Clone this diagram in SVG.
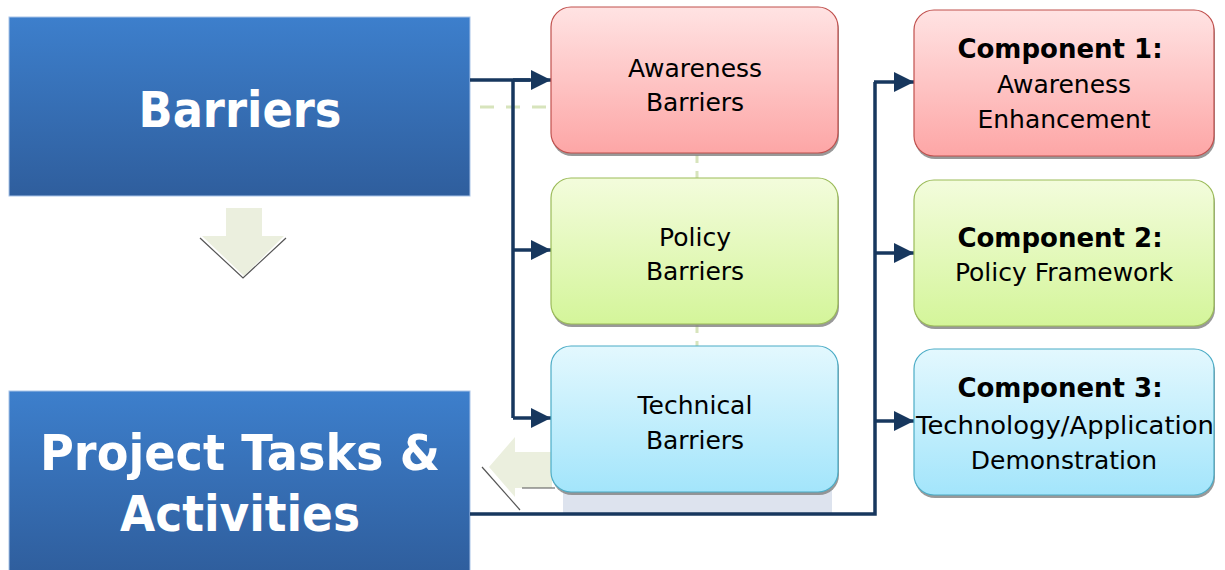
<svg xmlns="http://www.w3.org/2000/svg" width="1225" height="570" viewBox="0 0 1225 570">
<defs>
<linearGradient id="gBlue" x1="0" y1="0" x2="0" y2="1"><stop offset="0" stop-color="#3d7fcc"/><stop offset="1" stop-color="#2f5e9d"/></linearGradient>
<linearGradient id="gRed" x1="0" y1="0" x2="0" y2="1"><stop offset="0" stop-color="#ffe3e3"/><stop offset="1" stop-color="#fda6a6"/></linearGradient>
<linearGradient id="gGreen" x1="0" y1="0" x2="0" y2="1"><stop offset="0" stop-color="#f3fcdc"/><stop offset="1" stop-color="#d4f59a"/></linearGradient>
<linearGradient id="gCyan" x1="0" y1="0" x2="0" y2="1"><stop offset="0" stop-color="#e3f8fe"/><stop offset="1" stop-color="#a3e5fb"/></linearGradient>
<marker id="arr" viewBox="0 0 10 10" refX="10" refY="5" markerWidth="6.5" markerHeight="6.5" markerUnits="userSpaceOnUse" orient="auto"><path d="M0,0 L10,5 L0,10 z" fill="#17375e"/></marker>
<marker id="ah" viewBox="0 0 20 20" refX="20" refY="10" markerWidth="20" markerHeight="20" markerUnits="userSpaceOnUse" orient="auto"><path d="M0,0 L20,10 L0,20 z" fill="#17375e"/></marker>
</defs>
<style>
.big{font-family:"DejaVu Sans","Verdana",sans-serif;font-weight:bold;font-size:50px;fill:#ffffff;text-anchor:middle}
.lbl{font-family:"DejaVu Sans","Verdana",sans-serif;font-size:25px;fill:#000000;text-anchor:middle}
.bold{font-weight:bold;font-size:26px}
.conn{fill:none;stroke:#17375e;stroke-width:3.5}
.shadow{fill:#7f7f7f;opacity:0.8}
.pale{fill:#ebefde}
</style>

<!-- decorative background shapes -->
<g id="decor">
<line x1="480" y1="107" x2="550" y2="107" stroke="#d7e4bc" stroke-width="3" stroke-dasharray="14,12"/>
<line x1="697" y1="155" x2="697" y2="180" stroke="#d7e4bc" stroke-width="3" stroke-dasharray="8,8"/>
<line x1="697" y1="325" x2="697" y2="346" stroke="#d7e4bc" stroke-width="3" stroke-dasharray="8,8"/>
<rect x="563" y="490" width="269" height="23" fill="#dde3ee"/>
<path class="pale" d="M226,208 L262,208 L262,236 L284,236 L244,276 L202,236 L226,236 z"/>
<path d="M200,238 L243,278 L286,238" fill="none" stroke="#555" stroke-width="1.2"/>
<path class="pale" d="M489,467 L515,437 L515,452 L552,452 L552,488 L515,488 L515,497 z"/>
<path d="M482,467 L520,510" fill="none" stroke="#555" stroke-width="1.2"/>
<line x1="522" y1="488" x2="555" y2="488" stroke="#555" stroke-width="1.2"/>
</g>

<g id="barriers">
<rect x="9" y="17" width="461" height="179" fill="url(#gBlue)" stroke="#a8c3e8" stroke-width="1"/>
<text class="big" x="240" y="127" textLength="203" lengthAdjust="spacingAndGlyphs">Barriers</text>
</g>

<g id="project-tasks">
<rect x="9" y="391" width="461" height="182" fill="url(#gBlue)" stroke="#a8c3e8" stroke-width="1"/>
<text class="big" x="240" y="470" textLength="400" lengthAdjust="spacingAndGlyphs">Project Tasks &amp;</text>
<text class="big" x="240" y="531" textLength="240" lengthAdjust="spacingAndGlyphs">Activities</text>
</g>

<g id="connectors">
<path class="conn" d="M470,80 L530,80"/>
<path class="conn" d="M513,80 L513,418"/>
<path class="conn" d="M513,80 L551,80" marker-end="url(#ah)"/>
<path class="conn" d="M513,250 L551,250" marker-end="url(#ah)"/>
<path class="conn" d="M513,418 L551,418" marker-end="url(#ah)"/>
<path class="conn" d="M470,514 L875,514 L875,82"/>
<path class="conn" d="M874,82 L914,82" marker-end="url(#ah)"/>
<path class="conn" d="M874,253 L914,253" marker-end="url(#ah)"/>
<path class="conn" d="M874,421 L914,421" marker-end="url(#ah)"/>
</g>

<g id="awareness-barriers">
<rect class="shadow" x="552" y="10" width="287" height="146" rx="20"/>
<rect x="551" y="7" width="287" height="146" rx="20" fill="url(#gRed)" stroke="#c0504d" stroke-width="1.2"/>
<text class="lbl" x="695" y="77">Awareness</text>
<text class="lbl" x="695" y="111">Barriers</text>
</g>

<g id="policy-barriers">
<rect class="shadow" x="552" y="181" width="287" height="146" rx="20"/>
<rect x="551" y="178" width="287" height="146" rx="20" fill="url(#gGreen)" stroke="#9bbb59" stroke-width="1.2"/>
<text class="lbl" x="695" y="246">Policy</text>
<text class="lbl" x="695" y="280">Barriers</text>
</g>

<g id="technical-barriers">
<rect class="shadow" x="552" y="349" width="287" height="146" rx="20"/>
<rect x="551" y="346" width="287" height="146" rx="20" fill="url(#gCyan)" stroke="#4bacc6" stroke-width="1.2"/>
<text class="lbl" x="695" y="414">Technical</text>
<text class="lbl" x="695" y="449">Barriers</text>
</g>

<g id="component-1">
<rect class="shadow" x="915" y="13" width="300" height="146" rx="20"/>
<rect x="914" y="10" width="300" height="146" rx="20" fill="url(#gRed)" stroke="#c0504d" stroke-width="1.2"/>
<text class="lbl bold" x="1060" y="58">Component 1:</text>
<text class="lbl" x="1064" y="93">Awareness</text>
<text class="lbl" x="1064" y="128">Enhancement</text>
</g>

<g id="component-2">
<rect class="shadow" x="915" y="183" width="300" height="146" rx="20"/>
<rect x="914" y="180" width="300" height="146" rx="20" fill="url(#gGreen)" stroke="#9bbb59" stroke-width="1.2"/>
<text class="lbl bold" x="1060" y="247">Component 2:</text>
<text class="lbl" x="1064" y="281">Policy Framework</text>
</g>

<g id="component-3">
<rect class="shadow" x="915" y="352" width="300" height="146" rx="20"/>
<rect x="914" y="349" width="300" height="146" rx="20" fill="url(#gCyan)" stroke="#4bacc6" stroke-width="1.2"/>
<text class="lbl bold" x="1060" y="397">Component 3:</text>
<text class="lbl" x="1065" y="434" textLength="298" lengthAdjust="spacingAndGlyphs">Technology/Application</text>
<text class="lbl" x="1064" y="469">Demonstration</text>
</g>
</svg>
